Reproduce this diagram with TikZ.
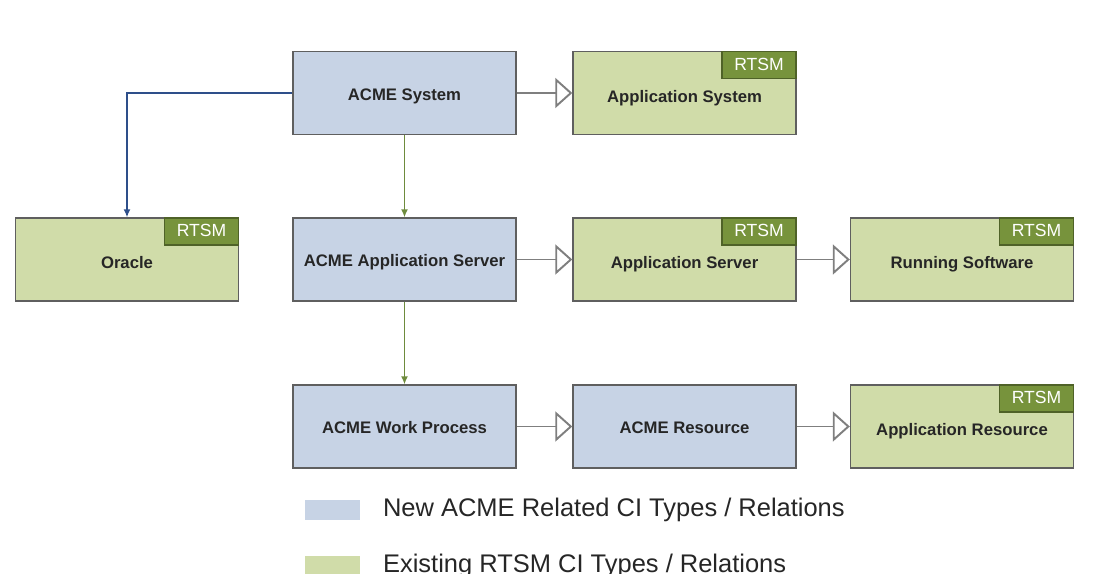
\documentclass[tikz,border=0pt]{standalone}
\usepackage{fontspec}
\setmainfont{Liberation Sans}
\usepackage{xcolor}
\usepackage{tikz}
\usetikzlibrary{arrows.meta,positioning}

\definecolor{newblue}{HTML}{C7D3E5}
\definecolor{oldgreen}{HTML}{D0DCA9}
\definecolor{tagfill}{HTML}{77933C}
\definecolor{tagline}{HTML}{4F6228}
\definecolor{boxline}{HTML}{5F5F5F}
\definecolor{linegray}{HTML}{7F7F7F}
\definecolor{usesblue}{HTML}{2E4F8A}
\definecolor{containsgreen}{HTML}{6E8B3D}

\begin{document}
\begin{tikzpicture}
            \tikzset{newci/.style = {draw=boxline, line width=0.8pt, fill=newblue, minimum width=4.46cm, minimum height=1.66cm, text height=10.4pt, text depth=2pt, text=black!85, font=\fontsize{9.5}{11}\selectfont\bfseries}}
            \tikzset{oldci/.style = {newci, fill=oldgreen, text height=12.7pt}}
            \tikzset{tag/.style = {draw=tagline, line width=0.8pt, fill=tagfill, minimum width=1.48cm, minimum height=0.54cm, inner sep=0pt, text height=9pt, text depth=3pt, text=white, font=\fontsize{10}{12}\selectfont}}
            \tikzset{extends/.style = {draw=linegray, line width=1.1pt, -{Triangle[open, length=0.34cm, width=0.6cm]}}}
            \tikzset{contains/.style = {draw=containsgreen, line width=0.8pt, -{Latex[length=0.16cm, width=0.14cm]}}}
            \tikzset{uses/.style = {draw=usesblue, line width=0.8pt, -{Latex[length=0.16cm, width=0.14cm]}}}
            \tikzset{key/.style = {minimum width=1.1cm, minimum height=0.4cm, inner sep=0pt}}
            \tikzset{keytext/.style = {text=black!85, font=\fontsize{14.5}{17}\selectfont}}

            \useasboundingbox (0,0) rectangle (21.86,-11.46);

            % new ACME CI types
            \node[newci] (acmesys) at (8.09,-1.86) {ACME System};
            \node[newci] (acmeserver) at (8.09,-5.19) {ACME Application Server};
            \node[newci] (acmework) at (8.09,-8.53) {ACME Work Process};
            \node[newci] (acmeres) at (13.69,-8.53) {ACME Resource};

            % existing RTSM CI types
            \foreach \n/\x/\y/\t in {appsys/13.69/-1.86/Application System, oracle/2.54/-5.19/Oracle, appserver/13.69/-5.19/Application Server, runsw/19.24/-5.19/Running Software, appres/19.24/-8.53/Application Resource}
            {
              \node[oldci] (\n) at (\x,\y) {\t};
              \node[tag, anchor=north east] (\n-tag) at (\n.north east) {RTSM};
            }

            % relations
            \draw[extends] (acmesys) -- (appsys);
            \draw[extends] (acmeserver) -- (appserver);
            \draw[extends] (appserver) -- (runsw);
            \draw[extends] (acmework) -- (acmeres);
            \draw[extends] (acmeres) -- (appres);
            \foreach \a/\b in {acmesys/acmeserver, acmeserver/acmework} {\draw[contains] (\a) -- (\b);}
            \draw[uses] (acmesys.west) -| (oracle.north);

            % legend
            \node[key, fill=newblue] (keynew) at (6.65,-10.2) {};
            \node[keytext, anchor=west, right=0.33cm of keynew] (keynewtext) {New ACME Related CI Types / Relations};
            \node[key, fill=oldgreen] (keyold) at (6.65,-11.32) {};
            \node[keytext, anchor=west, right=0.33cm of keyold] (keyoldtext) {Existing RTSM CI Types / Relations};

          \end{tikzpicture}
\end{document}
